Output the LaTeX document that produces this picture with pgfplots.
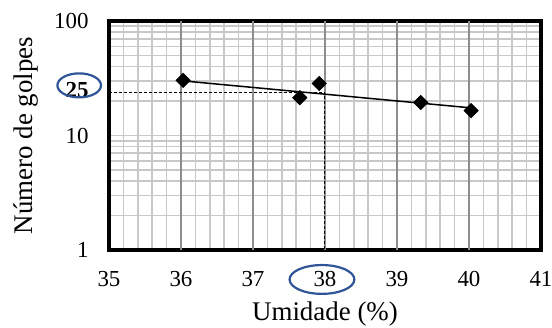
\documentclass[border=0pt]{standalone}
\usepackage{fontspec}
\setmainfont{Liberation Serif}
\usepackage{pgfplots}
\pgfplotsset{compat=1.18}
\definecolor{minorgrid}{RGB}{200,200,200}
\definecolor{majorgrid}{RGB}{140,140,140}
\definecolor{ellblue}{RGB}{47,85,151}
\begin{document}
\begin{tikzpicture}
\path[use as bounding box] (-54.5bp,-39bp) rectangle (221.5bp,125bp);
\begin{axis}[
  scale only axis, width=216bp, height=114.5bp,
  xmin=35, xmax=41, ymin=1, ymax=100, ymode=log,
  xtick={35,36,37,38,39,40,41},
  minor x tick num=4,
  ytick={1,10,100},
  yticklabels={1,10,100},
  /pgf/number format/assume math mode=true,
  grid=both,
  minor grid style={minorgrid, line width=0.8bp},
  major grid style={minorgrid, line width=0.8bp},
  major tick length=0pt, minor tick length=0pt,
  axis line style={line width=1.6bp, black},
  ticklabel style={font=\fontsize{11.5}{13}\selectfont},
  xticklabel style={anchor=base, yshift=-18bp},
  yticklabel style={anchor=east, inner sep=0pt, xshift=-10bp},
  extra x ticks={36,37,38,39,40},
  extra x tick labels={},
  extra x tick style={grid=major, major grid style={majorgrid, line width=0.7bp}},
  extra y ticks={25},
  extra y tick labels={\textbf{25}},
  extra y tick style={grid=none},
  xlabel={Umidade (\%)},
  ylabel={Número de golpes},
  label style={font=\fontsize{13.5}{15}\selectfont},
  xlabel style={at={(axis description cs:0.5,-0.31)}, anchor=base},
  ylabel style={at={(axis description cs:-0.178,0.5)}, anchor=base},
  clip=false,
]
\addplot[black, line width=0.75bp, no marks] coordinates {(36,30.1) (40,17.5)};
\addplot[black, line width=0.5bp, dash pattern=on 1.5bp off 1bp, no marks] coordinates {(35,23.8) (38,23.8) (38,1)};
\addplot[only marks, mark=square*, mark size=2.5bp, mark options={rotate=45, fill=black, draw=black}] coordinates {
  (36.03,30.3) (37.65,21.4) (37.92,28.5) (39.33,19.4) (40.03,16.5)};
\draw[ellblue, line width=1.1bp] (axis cs:34.586,27.4) ellipse [x radius=10.9bp, y radius=6bp];
\draw[ellblue, line width=1.1bp] (axis cs:37.958,0.553) ellipse [x radius=16.2bp, y radius=7.2bp];
\end{axis}
\end{tikzpicture}
\end{document}
